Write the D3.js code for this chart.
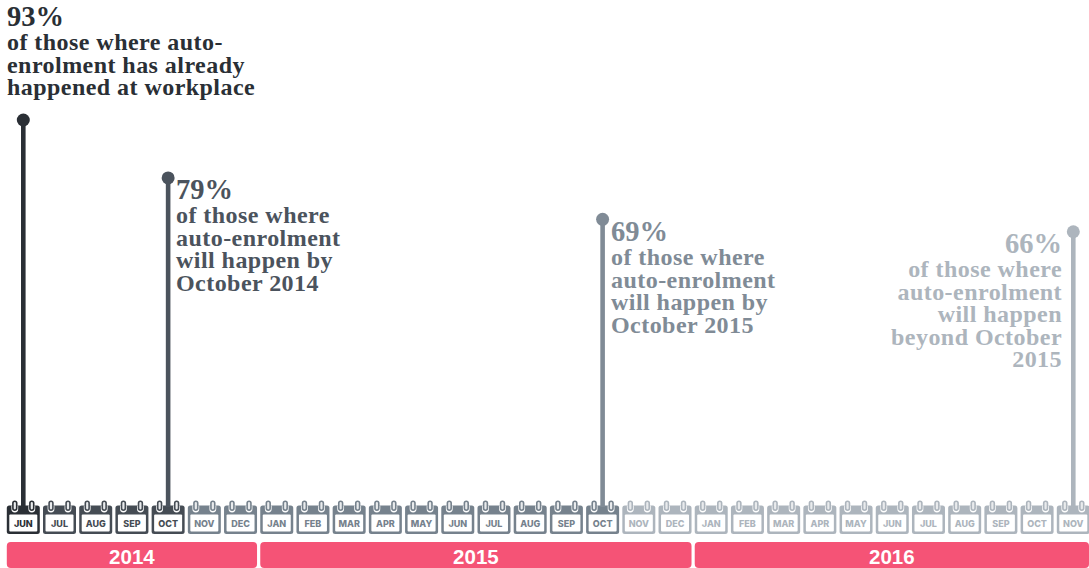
<!DOCTYPE html>
<html>
<head>
<meta charset="utf-8">
<script src="https://cdn.jsdelivr.net/npm/d3@7"></script>
<style>
html,body{margin:0;padding:0;background:#fff;overflow:hidden}
svg{display:block}
.pct{font-family:"Liberation Serif",serif;font-weight:700;font-size:28.5px}
.desc{font-family:"Liberation Serif",serif;font-weight:700;font-size:24px;letter-spacing:.45px}
.mon{font-family:Inter,"Liberation Sans",sans-serif;font-weight:800;font-size:9px;text-anchor:middle}
.yr{font-family:"Liberation Sans",Arial,sans-serif;font-weight:700;font-size:20.5px;text-anchor:middle;fill:#fff}
</style>
</head>
<body>
<svg id="chart" width="1089" height="568"></svg>
<script>
// Timeline of months, June 2014 to November 2016
const months = ["JUN","JUL","AUG","SEP","OCT","NOV","DEC",
  "JAN","FEB","MAR","APR","MAY","JUN","JUL","AUG","SEP","OCT","NOV","DEC",
  "JAN","FEB","MAR","APR","MAY","JUN","JUL","AUG","SEP","OCT","NOV"];
const monthTones = ["#2a2f35","#454c54","#454c54","#454c54","#454c54",
  "#76828d","#76828d","#76828d","#76828d","#76828d","#76828d","#76828d","#76828d","#76828d","#76828d","#76828d","#76828d",
  "#adb5bd","#adb5bd","#adb5bd","#adb5bd","#adb5bd","#adb5bd","#adb5bd","#adb5bd","#adb5bd","#adb5bd","#adb5bd","#adb5bd","#adb5bd"];

const years = ["2014","2015","2016"];
const yearFirstMonth = [0,7,19];
const yearLastMonth = [6,18,29];

// Share of workers at each stage of auto-enrolment
const stageMonths = [0,4,16,29];
const stageValues = [93,79,69,66];
const stageColors = ["#2a2f35","#4b535d","#808b96","#adb5bd"];
const stageLines = [
  ["of those where auto-","enrolment has already","happened at workplace"],
  ["of those where","auto-enrolment","will happen by","October 2014"],
  ["of those where","auto-enrolment","will happen by","October 2015"],
  ["of those where","auto-enrolment","will happen","beyond October","2015"]
];

const svg = d3.select("#chart");
const x = d3.scaleLinear().domain([0,29]).range([23.3,1073.3]);
const y = d3.scaleLinear().domain([0,93]).range([505,120]);

// Year ribbons
const ribbons = years.map((label,i)=>({label,first:yearFirstMonth[i],last:yearLastMonth[i]}));
const ribbonX0 = d => x(d.first)-16.5;
const ribbonX1 = d => Math.min(x(d.last)+16.5,1089);
svg.append("g").selectAll("rect").data(ribbons).join("rect")
  .attr("x",ribbonX0).attr("y",542)
  .attr("width",d=>ribbonX1(d)-ribbonX0(d)).attr("height",26)
  .attr("rx",4).attr("fill","#f55376");
svg.append("g").selectAll("text").data(ribbons).join("text")
  .attr("class","yr")
  .attr("x",d=>(ribbonX0(d)+ribbonX1(d))/2).attr("y",563.5)
  .text(d=>d.label);

// One small calendar page per month
const cal = svg.append("g").selectAll("g").data(months).join("g")
  .attr("transform",(d,i)=>`translate(${x(i)},0)`);
cal.append("path")
  .attr("d","M-14,505.5 H14 A2.5,2.5 0 0 1 16.5,508 V531.5 A2.5,2.5 0 0 1 14,534 H-14 A2.5,2.5 0 0 1 -16.5,531.5 V508 A2.5,2.5 0 0 1 -14,505.5 Z")
  .attr("fill",(d,i)=>monthTones[i]);
cal.append("rect")
  .attr("x",-14).attr("y",514.5).attr("width",28).attr("height",17).attr("rx",1)
  .attr("fill","#fff");
// Binder rings: white halo cut into the header, then an outlined loop
[-8.5,8.5].forEach(dx=>{
  cal.append("path")
    .attr("d",`M${dx-3.4},505.5 V509 A3.4,3.4 0 0 0 ${dx+3.4},509 V505.5 Z`).attr("fill","#fff");
  cal.append("rect").attr("x",dx-1.9).attr("y",501.2).attr("width",3.8).attr("height",9).attr("rx",1.9)
    .attr("fill","#e9ebed").attr("stroke-width",1.6)
    .attr("stroke",(d,i)=>monthTones[i]);
});
cal.append("text").attr("class","mon").attr("y",527)
  .attr("fill",(d,i)=>monthTones[i]).text(d=>d);

// Stems with a dot at each value
const stems = svg.append("g").selectAll("g").data(stageValues).join("g");
stems.append("line")
  .attr("x1",(d,i)=>x(stageMonths[i])).attr("x2",(d,i)=>x(stageMonths[i]))
  .attr("y1",d=>y(d)).attr("y2",y(0)+2)
  .attr("stroke",(d,i)=>stageColors[i]).attr("stroke-width",4.6);
stems.append("circle")
  .attr("cx",(d,i)=>x(stageMonths[i])).attr("cy",d=>y(d)).attr("r",6.5)
  .attr("fill",(d,i)=>stageColors[i]);

// Text blocks beside the stems
const blockX = [7,176,611,1062];
const blockTop = [26,199,241,253];
const blockAnchor = ["start","start","start","end"];
const lineGap = 22.6;
stageValues.forEach((v,i)=>{
  const g = svg.append("g").attr("fill",stageColors[i]).attr("text-anchor",blockAnchor[i]);
  g.append("text").attr("class","pct").attr("x",blockX[i]).attr("y",blockTop[i]).text(v+"%");
  g.append("text").attr("class","desc").selectAll("tspan").data(stageLines[i]).join("tspan")
    .attr("x",blockX[i]).attr("y",(t,k)=>blockTop[i]+24+k*lineGap).text(t=>t);
});
</script>
</body>
</html>
